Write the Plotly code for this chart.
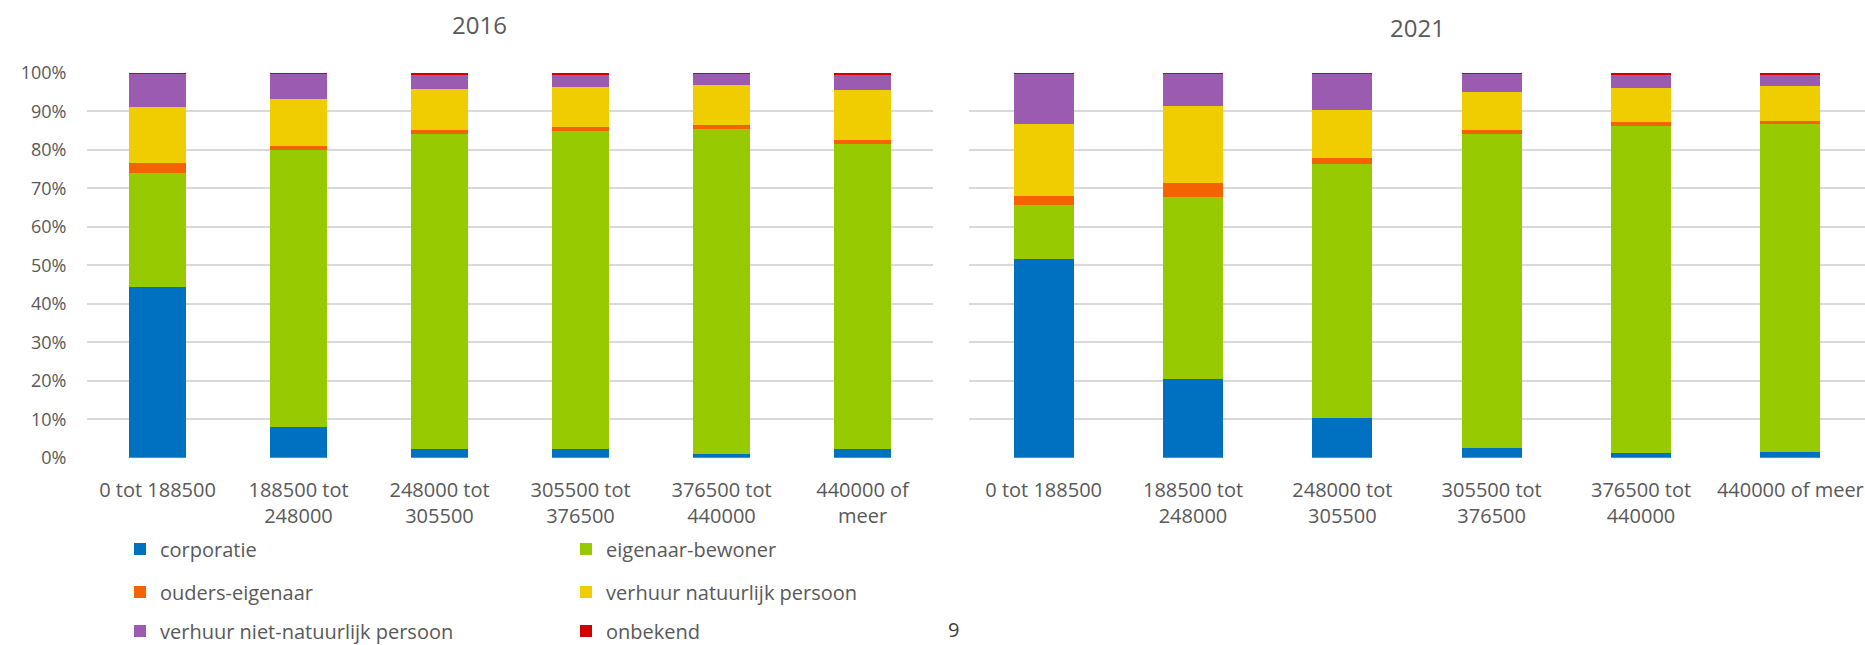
import plotly.graph_objects as go

W, H = 1865, 645

categories_2016 = ["0 tot 188500", "188500 tot<br>248000", "248000 tot<br>305500",
                   "305500 tot<br>376500", "376500 tot<br>440000", "440000 of<br>meer"]
categories_2021 = ["0 tot 188500", "188500 tot<br>248000", "248000 tot<br>305500",
                   "305500 tot<br>376500", "376500 tot<br>440000", "440000 of meer"]

series_names = ["corporatie", "eigenaar-bewoner", "ouders-eigenaar",
                "verhuur natuurlijk persoon", "verhuur niet-natuurlijk persoon", "onbekend"]

# 2016 shares (%)
corporatie_2016 = [44.4, 8.1, 2.3, 2.3, 1.0, 2.3]
eigenaar_2016 = [29.5, 71.8, 81.9, 82.5, 84.4, 79.2]
ouders_2016 = [2.6, 1.1, 1.0, 1.2, 0.9, 1.0]
verhuur_nat_2016 = [14.5, 12.2, 10.6, 10.3, 10.5, 12.9]
verhuur_niet_2016 = [8.9, 6.7, 3.9, 3.4, 3.0, 3.9]
onbekend_2016 = [0.1, 0.1, 0.3, 0.3, 0.2, 0.7]

# 2021 shares (%)
corporatie_2021 = [51.6, 20.4, 10.2, 2.6, 1.2, 1.5]
eigenaar_2021 = [14.0, 47.3, 66.1, 81.5, 85.0, 85.1]
ouders_2021 = [2.3, 3.7, 1.5, 1.1, 1.1, 0.9]
verhuur_nat_2021 = [18.7, 19.9, 12.5, 9.8, 8.8, 9.1]
verhuur_niet_2021 = [13.3, 8.6, 9.6, 4.9, 3.6, 3.1]
onbekend_2021 = [0.1, 0.1, 0.1, 0.1, 0.3, 0.3]

colors = ["#0070C0", "#97CA00", "#F56200", "#EFCD00", "#9B5BB0", "#D20000"]
legend_ids = ["legend", "legend", "legend2", "legend2", "legend3", "legend3"]

data_2016 = [corporatie_2016, eigenaar_2016, ouders_2016, verhuur_nat_2016, verhuur_niet_2016, onbekend_2016]
data_2021 = [corporatie_2021, eigenaar_2021, ouders_2021, verhuur_nat_2021, verhuur_niet_2021, onbekend_2021]

FONT = "Open Sans"
TXT = "#595959"
GRID = "#D9D9D9"

fig = go.Figure()
for name, vals, col, lg in zip(series_names, data_2016, colors, legend_ids):
    fig.add_trace(go.Bar(x=categories_2016, y=vals, name=name, marker_color=col,
                         marker_line_width=0, legendgroup=name, legend=lg,
                         xaxis="x", yaxis="y", showlegend=True))
for name, vals, col in zip(series_names, data_2021, colors):
    fig.add_trace(go.Bar(x=categories_2021, y=vals, name=name, marker_color=col,
                         marker_line_width=0, legendgroup=name,
                         xaxis="x2", yaxis="y2", showlegend=False))

def px_x(p):
    return p / W

def px_y(p):
    return 1 - p / H

ydom = [px_y(457.7), px_y(72.7)]

axis_common = dict(showgrid=False, showline=False, zeroline=False,
                   ticks="outside", ticklen=14, tickcolor="rgba(0,0,0,0)",
                   tickfont=dict(family=FONT, size=20, color=TXT))

legend_common = dict(orientation="h", x=px_x(120), xanchor="left", yanchor="middle",
                     entrywidth=401, entrywidthmode="pixels", traceorder="normal",
                     font=dict(family=FONT, size=20, color=TXT), bgcolor="rgba(0,0,0,0)")

fig.update_layout(
    width=W, height=H, autosize=False,
    margin=dict(l=0, r=0, t=0, b=0, autoexpand=False),
    paper_bgcolor="white", plot_bgcolor="white",
    barmode="stack", bargap=0.6,
    font=dict(family=FONT, size=20, color=TXT),
    xaxis=dict(domain=[px_x(87), px_x(933)], anchor="y", **axis_common),
    xaxis2=dict(domain=[px_x(969), 1.0], anchor="y2", **axis_common),
    yaxis=dict(domain=ydom, anchor="x", range=[0, 100], dtick=10, ticksuffix="%",
               showgrid=True, gridcolor=GRID, gridwidth=1.5, zeroline=False,
               showline=False, ticks="outside", ticklen=16, tickcolor="rgba(0,0,0,0)",
               tickfont=dict(family=FONT, size=18, color=TXT)),
    yaxis2=dict(domain=ydom, anchor="x2", range=[0, 100], dtick=10,
                showgrid=True, gridcolor=GRID, gridwidth=1.5, zeroline=False,
                showline=False, showticklabels=False, ticks=""),
    legend=dict(y=px_y(549), **legend_common),
    legend2=dict(y=px_y(592), **legend_common),
    legend3=dict(y=px_y(631), **legend_common),
    showlegend=True,
)

fig.add_annotation(text="2016", x=px_x(479), y=px_y(25), xref="paper", yref="paper",
                   xanchor="center", yanchor="middle", showarrow=False,
                   font=dict(family=FONT, size=24, color=TXT))
fig.add_annotation(text="2021", x=px_x(1417), y=px_y(28), xref="paper", yref="paper",
                   xanchor="center", yanchor="middle", showarrow=False,
                   font=dict(family=FONT, size=24, color=TXT))
fig.add_annotation(text="9", x=px_x(953), y=0, xref="paper", yref="paper",
                   xanchor="center", yanchor="bottom", showarrow=False,
                   font=dict(family=FONT, size=20, color="#404040"))

fig.write_html("out.html")
